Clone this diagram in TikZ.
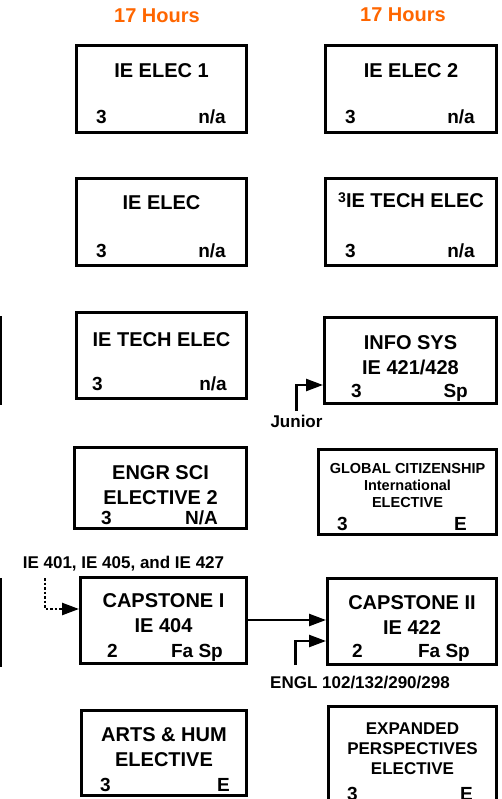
\documentclass[tikz,border=0pt]{standalone}
\usepackage{fontspec}
\setmainfont{Liberation Sans}
\usetikzlibrary{arrows.meta,positioning}
\definecolor{HourOrange}{HTML}{FF6600}

\begin{document}
\begin{tikzpicture}[x=1pt,y=-1pt,
 course/.style={draw=black,line width=3pt,inner sep=0pt},
 ttl/.style={font=\fontsize{20}{25}\selectfont\bfseries,align=center,inner sep=0pt,anchor=north},
 cr/.style={font=\fontsize{19}{22}\selectfont\bfseries,inner sep=0pt,anchor=base west},
 sem/.style={font=\fontsize{19}{22}\selectfont\bfseries,inner sep=0pt,anchor=base east},
 hrs/.style={font=\fontsize{20}{24}\selectfont\bfseries,text=HourOrange,inner sep=0pt,anchor=base},
 note/.style={font=\fontsize{17}{20}\selectfont\bfseries,anchor=base},
 arr/.style={-{Triangle[length=17pt,width=12pt]},line width=2.4pt},
 prereq/.style={arr,dash pattern=on 2.5pt off 2pt}]
\useasboundingbox (0,0) rectangle (501,799);
\clip (0,0) rectangle (501,799);
% boxes of the column before, cut off at the edge
\draw[line width=3pt] (-150,317.5) rectangle (0.5,403.5);
\draw[line width=3pt] (-150,579.5) rectangle (0.5,665.5);
% headers
\node[hrs] (hrsl) at (157,23) {17 Hours};
\node[hrs] (hrsr) at (403,22) {17 Hours};
% left column
\node[course,minimum width=170pt,minimum height=87pt] (ielec1) at (161.5,89) {};
\node[ttl] (ielec1t) at (161.5,63) {IE ELEC 1};
\node[cr] (ielec1c) at (96,124) {3};
\node[sem] (ielec1s) at (226,124) {n/a};
\node[course,minimum width=170pt,minimum height=87pt] (ielec) at (161.5,222) {};
\node[ttl] (ielect) at (161.5,195) {IE ELEC};
\node[cr] (ielecc) at (96,258) {3};
\node[sem] (ielecs) at (226,258) {n/a};
\node[course,minimum width=170pt,minimum height=86pt] (tech) at (161.5,355.5) {};
\node[ttl] (techt) at (161.5,332) {IE TECH ELEC};
\node[cr] (techc) at (92,390) {3};
\node[sem] (techs) at (227,390) {n/a};
\node[course,minimum width=172pt,minimum height=81pt] (engr) at (160.5,488) {};
\node[ttl] (engrt) at (160.5,465) {ENGR SCI\\ELECTIVE 2};
\node[cr] (engrc) at (101,524) {3};
\node[sem] (engrs) at (218,524) {N/A};
\node[course,minimum width=166pt,minimum height=86pt] (cap1) at (163.5,620.5) {};
\node[ttl] (cap1t) at (163.5,593) {CAPSTONE I\\IE 404};
\node[cr] (cap1c) at (107,657) {2};
\node[sem] (cap1s) at (223,657) {Fa Sp};
\node[course,minimum width=165pt,minimum height=85pt] (arts) at (164,753) {};
\node[ttl] (artst) at (164,727) {ARTS \& HUM\\ELECTIVE};
\node[cr] (artsc) at (100,791) {3};
\node[sem] (artss) at (230,791) {E};
% right column
\node[course,minimum width=171pt,minimum height=87pt] (ielec2) at (411,89) {};
\node[ttl] (ielec2t) at (411,63) {IE ELEC 2};
\node[cr] (ielec2c) at (345,124) {3};
\node[sem] (ielec2s) at (475,124) {n/a};
\node[course,minimum width=171pt,minimum height=87pt] (tech3) at (411,222) {};
\node[ttl] (tech3t) at (411,193) {\raisebox{5pt}{\fontsize{14}{14}\selectfont 3}IE TECH ELEC};
\node[cr] (tech3c) at (345,258) {3};
\node[sem] (tech3s) at (475,258) {n/a};
\node[course,minimum width=172pt,minimum height=86pt] (infosys) at (410.5,360.5) {};
\node[ttl] (infosyst) at (410.5,335) {INFO SYS\\IE 421/428};
\node[cr] (infosysc) at (351,397) {3};
\node[sem] (infosyss) at (468,397) {Sp};
\node[course,minimum width=178pt,minimum height=85pt] (global) at (407.5,492) {};
\node[ttl,font=\fontsize{14.5}{17}\selectfont\bfseries] (globalt) at (407.5,463) {GLOBAL CITIZENSHIP\\International\\ELECTIVE};
\node[cr] (globalc) at (337,530) {3};
\node[sem] (globals) at (467,530) {E};
\node[course,minimum width=169pt,minimum height=86pt] (cap2) at (412,621.5) {};
\node[ttl] (cap2t) at (412,595) {CAPSTONE II\\IE 422};
\node[cr] (cap2c) at (352,657) {2};
\node[sem] (cap2s) at (470,657) {Fa Sp};
\node[course,minimum width=168pt,minimum height=107pt] (expd) at (412.5,760) {};
\node[ttl,font=\fontsize{17}{20}\selectfont\bfseries] (expdt) at (412.5,723) {EXPANDED\\PERSPECTIVES\\ELECTIVE};
\node[cr] (expdc) at (347,800) {3};
\node[sem] (expds) at (473,800) {E};
% prerequisites
\node[note] (jun) at (296.5,427) {Junior};
\node[note] (pre1) at (123.5,568) {IE 401, IE 405, and IE 427};
\node[note] (engl) at (360,688) {ENGL 102/132/290/298};
\coordinate (pre1a) at (45,578);
\coordinate (engla) at (295.5,665);
\draw[arr] (jun.north) |- ([yshift=-24.5pt]infosys.west);
\draw[prereq] (pre1a) |- ([yshift=11.5pt]cap1.west);
\draw[arr] ([yshift=0.5pt]cap1.east) -- ([yshift=0.5pt]cap1.east -| cap2.west);
\draw[arr] (engla) |- ([yshift=-19.5pt]cap2.west);
\end{tikzpicture}
\end{document}
